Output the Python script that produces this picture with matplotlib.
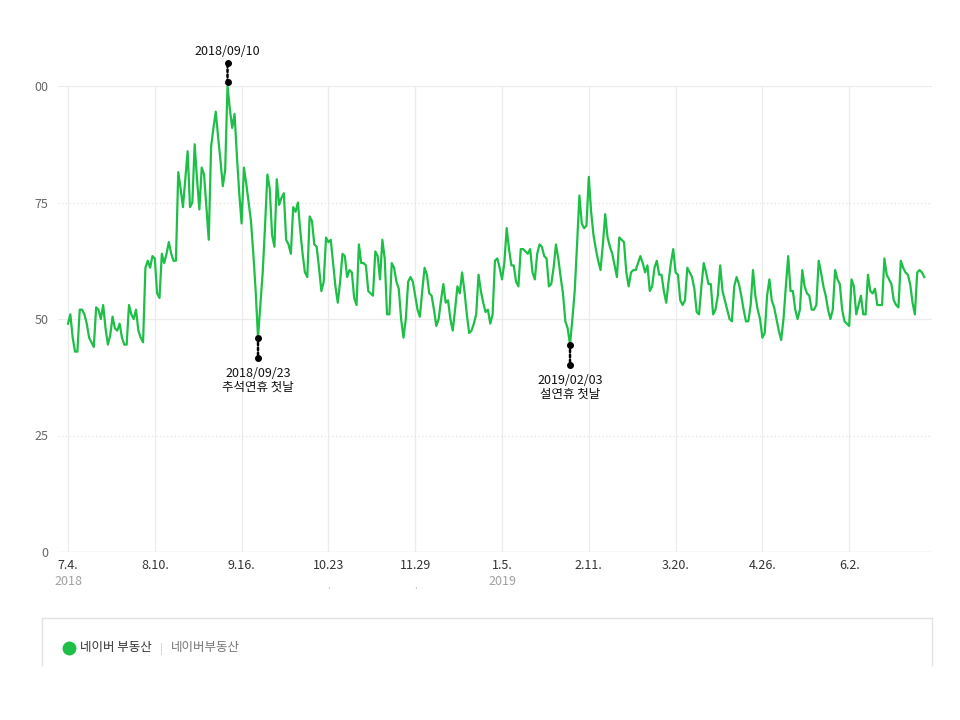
import numpy as np
import pandas as pd
import matplotlib
matplotlib.use("Agg")
import matplotlib.pyplot as plt
import matplotlib.dates as mdates
import matplotlib.transforms as mtransforms
from matplotlib.lines import Line2D

plt.rcParams["font.family"] = ["Noto Sans CJK KR", "DejaVu Sans"]

# daily index, 2018-07-04 .. 2018-12-31 (one row = one week, Wed..Tue)
values_2018 = [
    49, 51, 46, 43, 43, 52, 52,
    51, 49, 46, 45, 44, 52.5, 52,
    50, 53, 48, 44.5, 46.5, 50.5, 48,
    47.5, 49, 46, 44.5, 44.5, 53, 51,
    50, 52, 47.5, 46, 45, 61, 62.5,
    61, 63.5, 63, 55.5, 54.5, 64, 62,
    64, 66.5, 64, 62.5, 62.5, 81.5, 78,
    74, 80, 86, 74, 75, 87.5, 80,
    73.5, 82.5, 81, 74, 67, 87, 91,
    94.5, 89, 84, 78.5, 82, 100, 95,
    91, 94, 85, 77, 70.5, 82.5, 79,
    75, 71, 64, 56, 46, 53, 60,
    70, 81, 78, 68, 65.5, 80, 74.5,
    76, 77, 67, 66, 64, 74, 73,
    75, 69, 64, 60, 59, 72, 71,
    66, 65.5, 61, 56, 58, 67.5, 66.5,
    67, 62, 57, 53.5, 58, 64, 63.5,
    59, 60.5, 60, 54.5, 53, 66, 62,
    62, 61.5, 56, 55.5, 55, 64.5, 63.5,
    58.5, 67, 63, 51, 51, 62, 61,
    58, 56.5, 50, 46, 50, 58, 59,
    58, 55, 52, 50.5, 56, 61, 59.5,
    55.5, 55, 52, 48.5, 50, 54, 57.5,
    53.5, 54, 50, 47.5, 52, 57, 55.5,
    60, 56, 51, 47, 47.5, 49, 51,
    59.5, 56, 53.5, 51.5, 52, 49,
]

# daily index, 2019-01-01 .. 2019-07-04
values_2019 = [
    51, 62.5, 63, 61, 58.5, 62, 69.5,
    65, 61.5, 61.5, 58, 57, 65, 65,
    64.5, 64, 65, 60, 58.5, 64, 66,
    65.5, 63.5, 63, 57, 57.5, 61, 66,
    63, 59, 55.5, 49.5, 48, 44.5, 50,
    56, 66, 76.5, 70.5, 69.5, 70, 80.5,
    73, 68, 65, 62.5, 60.5, 66, 72.5,
    67.5, 65.5, 64, 61.5, 59, 67.5, 67,
    66.5, 60, 57, 60, 60.5, 60.5, 62,
    63.5, 62, 60, 61.5, 56, 57, 61,
    62.5, 59.5, 59.5, 56, 53.5, 58, 62,
    65, 60, 59.5, 54, 53, 54, 61,
    60, 59, 56.5, 51.5, 51, 57, 62,
    60, 57.5, 57.5, 51, 52, 55, 61.5,
    56, 54, 52, 50, 49.5, 57, 59,
    57.5, 55, 52, 49.5, 49.5, 53, 60.5,
    55, 52, 50, 46, 47, 55, 58.5,
    54, 52.5, 50, 47.5, 45.5, 50, 57,
    63.5, 56, 56, 52, 50, 52, 60.5,
    57, 55.5, 55, 52, 52, 53, 62.5,
    60, 57, 55, 52, 50, 52, 60.5,
    58.5, 57.5, 52, 49.5, 49, 48.5, 58.5,
    57, 51, 53, 55, 51, 51, 59.5,
    56, 55.5, 56.5, 53, 53, 53, 63,
    59.5, 58.5, 57.5, 54, 53, 52.5, 62.5,
    61, 60, 59.5, 57.5, 53.5, 51, 60,
    60.5, 60, 59,
]

values = np.array(values_2018 + values_2019)
dates = pd.date_range("2018-07-04", periods=len(values), freq="D")

tick_dates = pd.to_datetime([
    "2018-07-04", "2018-08-10", "2018-09-16", "2018-10-23", "2018-11-29",
    "2019-01-05", "2019-02-11", "2019-03-20", "2019-04-26", "2019-06-02",
])
tick_labels = ["7.4.", "8.10.", "9.16.", "10.23", "11.29",
               "1.5.", "2.11.", "3.20.", "4.26.", "6.2."]
year_dates = pd.to_datetime(["2018-07-04", "2019-01-05"])
year_labels = ["2018", "2019"]
dot_dates = pd.to_datetime(["2018-10-23", "2018-11-29"])

y_ticks = [0, 25, 50, 75, 100]
y_labels = ["0", "25", "50", "75", "00"]

event_dates = pd.to_datetime(["2018-09-10", "2018-09-23", "2019-02-03"])
event_texts = ["2018/09/10", "2018/09/23\n추석연휴 첫날", "2019/02/03\n설연휴 첫날"]
event_dirs = ["up", "down", "down"]

series_name = "네이버 부동산"
source_name = "네이버부동산"

green = "#1dbf46"

fig = plt.figure(figsize=(9.6, 7.2), dpi=100)
ax = fig.add_axes([58 / 960, 168 / 720, 874 / 960, 466 / 720])

ax.plot(dates, values, color=green, lw=1.6, zorder=3, solid_joinstyle="round")

x0 = dates[0] - pd.Timedelta(days=4.26)
x1 = dates[0] + pd.Timedelta(days=368.3)
ax.set_xlim(x0, x1)
ax.set_ylim(0, 100)

for s in ax.spines.values():
    s.set_visible(False)

for d in tick_dates:
    ax.axvline(d, color="#ececec", lw=0.9, zorder=0)
ax.axhline(100, color="#ececec", lw=0.9, zorder=0)
ax.axhline(50, color="#ececec", lw=0.9, zorder=0)
for yv in [25, 75]:
    ax.axhline(yv, color="#e2e2e2", lw=0.9, ls=(0, (1, 2)), zorder=0)
ax.axhline(0, color="#dddddd", lw=1.0, zorder=1)

ax.set_yticks(y_ticks, y_labels)
ax.set_xticks(tick_dates, tick_labels)
ax.tick_params(axis="y", length=0, pad=7, labelsize=9, labelcolor="#666666")
ax.tick_params(axis="x", length=0, pad=5, labelsize=9, labelcolor="#333333")

blend = mtransforms.blended_transform_factory(ax.transData, ax.transAxes)
for d, lab in zip(year_dates, year_labels):
    ax.text(mdates.date2num(d), -0.064, lab, transform=blend, ha="center", va="center",
            fontsize=9, color="#a0a0a0")
for d in dot_dates:
    ax.text(mdates.date2num(d), -0.072, ".", transform=blend, ha="center", va="center",
            fontsize=7, color="#bbbbbb")

# event markers
for d, txt, direction in zip(event_dates, event_texts, event_dirs):
    yv = values[dates.get_loc(d)]
    xn = mdates.date2num(d)
    if direction == "up":
        offs = (4, 23)
        t_off, va = 34.5, "center"
    else:
        offs = (0, -20)
        t_off, va = -29, "top"
    tr_a = mtransforms.offset_copy(ax.transData, fig=fig, x=0, y=offs[0], units="dots")
    tr_b = mtransforms.offset_copy(ax.transData, fig=fig, x=0, y=offs[1], units="dots")
    tr_t = mtransforms.offset_copy(ax.transData, fig=fig, x=0, y=t_off, units="dots")
    ax.plot([xn], [yv], "o", color="black", ms=4, transform=tr_a, clip_on=False, zorder=5)
    ax.plot([xn], [yv], "o", color="black", ms=4, transform=tr_b, clip_on=False, zorder=5)
    ax.annotate("", xy=(xn, yv), xycoords=tr_b, xytext=(xn, yv), textcoords=tr_a,
                arrowprops=dict(arrowstyle="-", color="black", lw=1.8,
                                ls=(0, (1, 1)), shrinkA=0, shrinkB=0),
                annotation_clip=False)
    ax.text(xn, yv, txt, transform=tr_t, ha="center", va=va, fontsize=9,
            color="#111111", linespacing=1.15, zorder=6)

# legend box
box_c = "#e3e3e3"
fig.add_artist(Line2D([42 / 960, 932 / 960], [1 - 618 / 720] * 2, color=box_c, lw=1,
                      transform=fig.transFigure))
fig.add_artist(Line2D([42 / 960] * 2, [1 - 618 / 720, 1 - 665 / 720], color=box_c, lw=1,
                      transform=fig.transFigure))
fig.add_artist(Line2D([932 / 960] * 2, [1 - 618 / 720, 1 - 665 / 720], color=box_c, lw=1,
                      transform=fig.transFigure))
fig.add_artist(Line2D([69 / 960], [1 - 648 / 720], marker="o", ms=9, color=green, lw=0,
                      transform=fig.transFigure))
fig.text(80 / 960, 1 - 648 / 720, series_name, ha="left", va="center", fontsize=9,
         color="#333333")
fig.text(161 / 960, 1 - 649 / 720, "|", ha="center", va="center", fontsize=8,
         color="#cccccc")
fig.text(171 / 960, 1 - 648 / 720, source_name, ha="left", va="center", fontsize=9,
         color="#777777")

fig.savefig("out.png", dpi=100, facecolor="white")
